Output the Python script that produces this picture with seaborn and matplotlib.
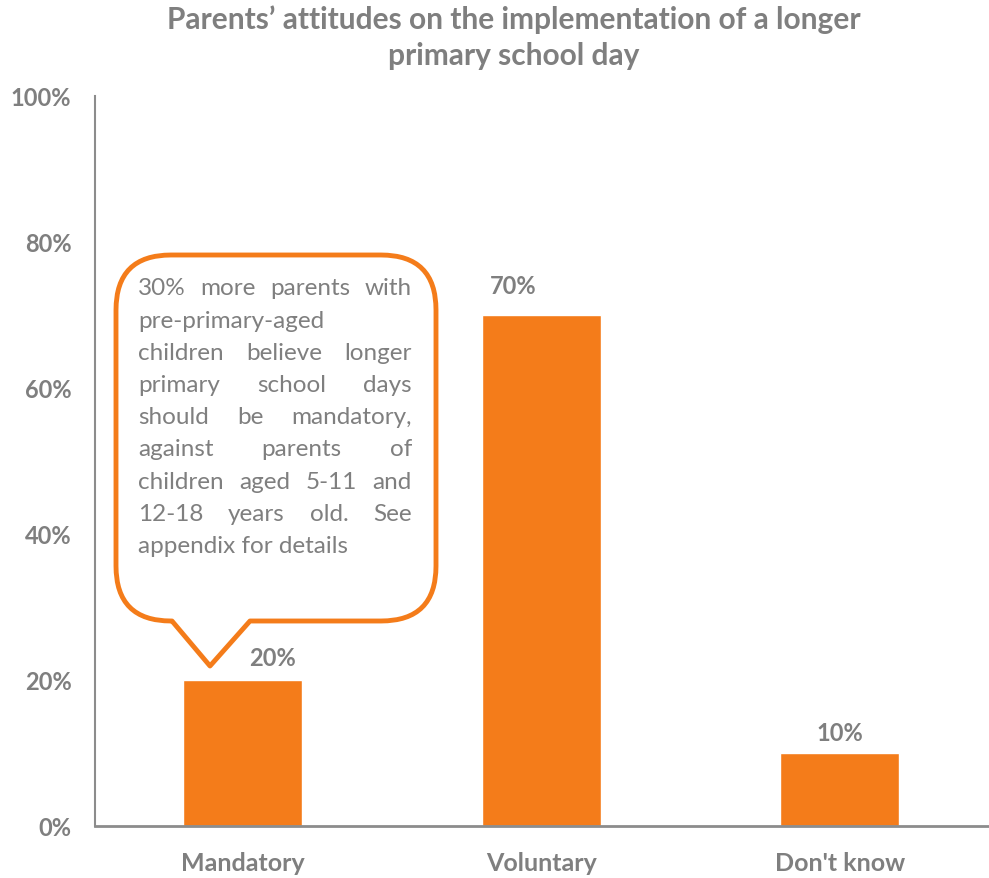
import matplotlib
matplotlib.use("Agg")
import matplotlib.pyplot as plt
from matplotlib.path import Path
from matplotlib.patches import PathPatch
import seaborn as sns
import pandas as pd

# Survey results
categories = ["Mandatory", "Voluntary", "Don't know"]
shares = [20, 70, 10]
value_labels = ["20%", "70%", "10%"]
y_ticks = [0, 20, 40, 60, 80, 100]
y_tick_labels = ["0%", "20%", "40%", "60%", "80%", "100%"]

title_lines = ["Parents\u2019 attitudes on the implementation of a longer",
               "primary school day"]
note_lines = ["30% more parents with",
              "pre-primary-aged",
              "children believe longer",
              "primary school days",
              "should be mandatory,",
              "against parents of",
              "children aged 5-11 and",
              "12-18 years old.  See",
              "appendix for details"]
note_justified = [True, False, True, True, True, True, True, True, False]

ORANGE = "#F47C1A"
GREY = "#7F7F7F"
AXIS_GREY = "#8C8C8C"
FONT = ["Lato", "DejaVu Sans"]

W, H = 989, 879
sns.set_theme(style="white")
plt.rcParams["font.family"] = FONT

fig = plt.figure(figsize=(W / 100, H / 100), dpi=100)
ax = fig.add_axes([95 / W, 1 - 827 / H, 1 - 95 / W, (827 - 97) / H])

df = pd.DataFrame({"category": categories, "share": shares})
sns.barplot(data=df, x="category", y="share", color=ORANGE, saturation=1,
            width=0.4, ax=ax)

ax.set_xlim(-0.495, 2.5)
ax.set_ylim(0, 100)
ax.set_yticks(y_ticks)
ax.set_yticklabels(y_tick_labels)
ax.set_xlabel("")
ax.set_ylabel("")
ax.tick_params(axis="both", length=0, colors=GREY)
ax.tick_params(axis="y", pad=17, labelsize=17)
ax.tick_params(axis="x", pad=18, labelsize=18)
for lbl in ax.get_xticklabels() + ax.get_yticklabels():
    lbl.set_fontweight("bold")
    lbl.set_color(GREY)

for side in ["top", "right"]:
    ax.spines[side].set_visible(False)
ax.spines["left"].set_color(AXIS_GREY)
ax.spines["left"].set_linewidth(1.5)
ax.spines["bottom"].set_color(AXIS_GREY)
ax.spines["bottom"].set_linewidth(2)

# value labels above the bars
label_dx = [0.1, -0.093, 0.0]
label_dy = [16, 21, 15]
for i, (v, txt) in enumerate(zip(shares, value_labels)):
    ax.annotate(txt, xy=(i + label_dx[i], v), xytext=(0, label_dy[i]),
                textcoords="offset points", ha="center", va="center",
                fontsize=17, fontweight="bold", color=GREY)

# title
for k, line in enumerate(title_lines):
    fig.text(514 / W, 1 - (20 + 36 * k) / H, line, ha="center", va="center",
             fontsize=21.5, fontweight="bold", color=GREY)


# callout bubble, drawn in pixel coordinates (y pointing down)
def fx(x):
    return x / W


def fy(y):
    return 1 - y / H


x0, x1, y0, y1, r = 116, 436, 256, 622, 55
tip = (210, 667)
base_l, base_r = 172, 250
pts = [
    ((x0 + r, y0), Path.MOVETO),
    ((x1 - r, y0), Path.LINETO),
    ((x1, y0), Path.CURVE3), ((x1, y0 + r), Path.CURVE3),
    ((x1, y1 - r), Path.LINETO),
    ((x1, y1), Path.CURVE3), ((x1 - r, y1), Path.CURVE3),
    ((base_r, y1), Path.LINETO),
    (tip, Path.LINETO),
    ((base_l, y1), Path.LINETO),
    ((x0 + r, y1), Path.LINETO),
    ((x0, y1), Path.CURVE3), ((x0, y1 - r), Path.CURVE3),
    ((x0, y0 + r), Path.LINETO),
    ((x0, y0), Path.CURVE3), ((x0 + r, y0), Path.CURVE3),
    ((x0 + r, y0), Path.CLOSEPOLY),
]
verts = [(fx(p[0]), fy(p[1])) for p, _ in pts]
codes = [c for _, c in pts]
bubble = PathPatch(Path(verts, codes), transform=fig.transFigure,
                   facecolor="white", edgecolor=ORANGE, linewidth=3.5,
                   joinstyle="round", zorder=5)
fig.patches.append(bubble)

# justified note text
renderer = fig.canvas.get_renderer()
tx0, tx1 = 138, 412
note_size = 17.5
for k, (line, just) in enumerate(zip(note_lines, note_justified)):
    yc = fy(289 + 32.2 * k)
    if not just:
        fig.text(fx(tx0), yc, line, ha="left", va="center", fontsize=note_size,
                 color=GREY, zorder=6)
        continue
    words = line.split()
    items = [fig.text(0, yc, w_, ha="left", va="center", fontsize=note_size,
                      color=GREY, zorder=6) for w_ in words]
    widths = [t.get_window_extent(renderer).width for t in items]
    gap = (tx1 - tx0 - sum(widths)) / (len(words) - 1)
    xpos = tx0
    for t, wd in zip(items, widths):
        t.set_x(fx(xpos))
        xpos += wd + gap

fig.savefig("out.png", dpi=100)
